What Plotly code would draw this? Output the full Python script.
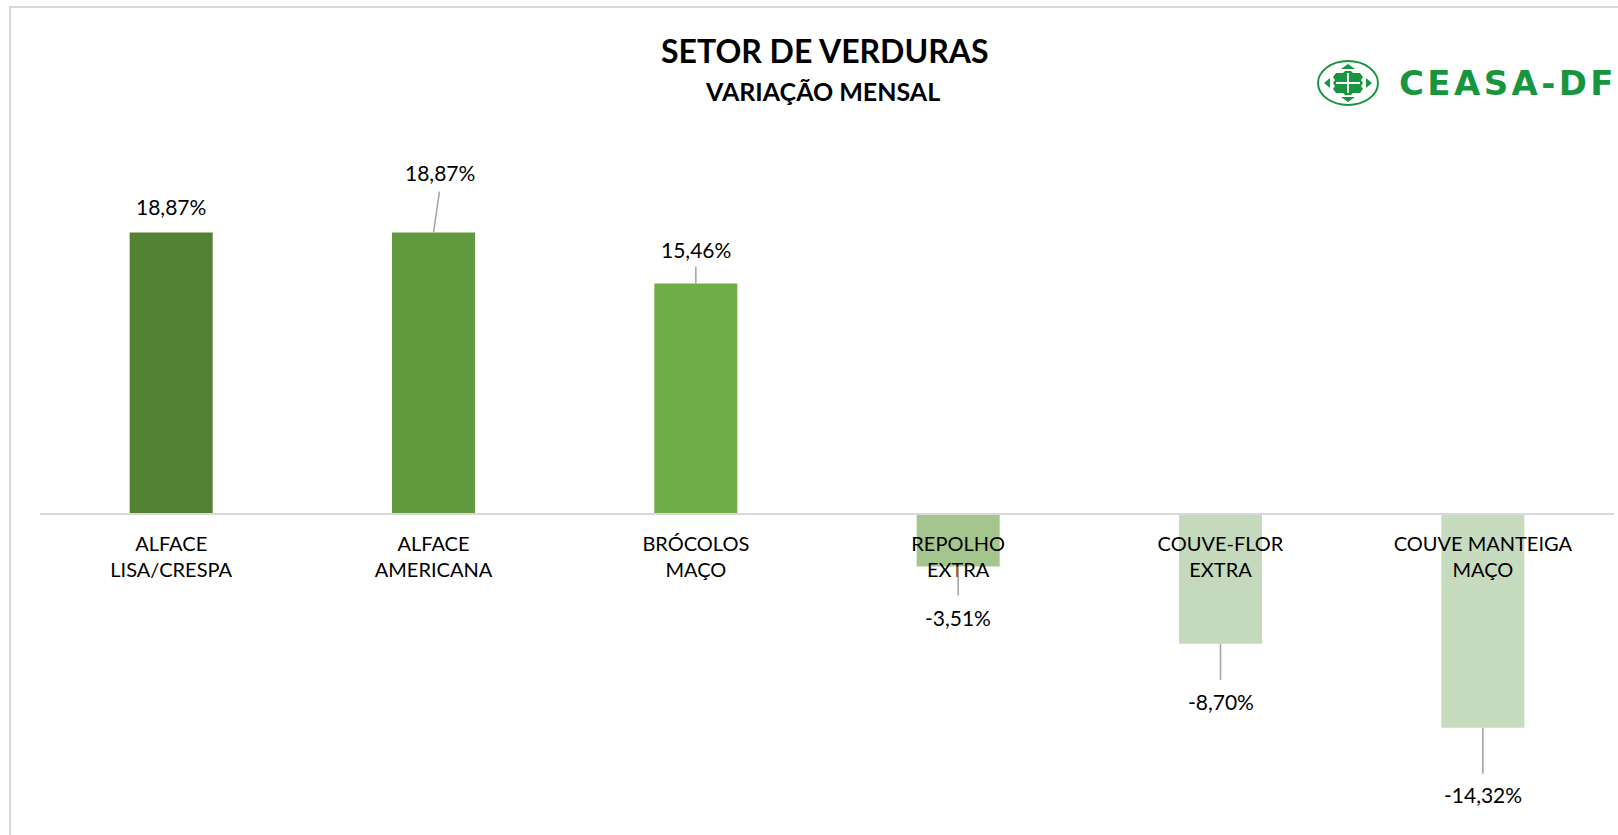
import plotly.graph_objects as go

# ---------------- data ----------------
categories = ["ALFACE<br>LISA/CRESPA", "ALFACE<br>AMERICANA", "BRÓCOLOS<br>MAÇO",
              "REPOLHO<br>EXTRA", "COUVE-FLOR<br>EXTRA", "COUVE MANTEIGA<br>MAÇO"]
variation = [18.87, 18.87, 15.46, -3.51, -8.70, -14.32]
title_text = "SETOR DE VERDURAS"
subtitle_text = "VARIAÇÃO MENSAL"
logo_text = "CEASA-DF"

# ---------------- styles ----------------
bar_colors = ["#548235", "#629B3F", "#70AD47", "#A4C68E", "#C5D9BC", "#C7DBBF"]
label_shift = [(0, 26), (6, 60), (0, 34), (0, -51), (0, -58), (0, -67)]
leader = [None, (6, 41), (0, 17), (0, -29), (0, -36), (0, -46)]
LOGO_GREEN = "#17963F"
FONT = "Lato, 'Open Sans', sans-serif"

W, H = 1618, 835
ML, MR, MT, MB = 40, 4, 120, 10
PW, PH = W - ML - MR, H - MT - MB
Y_RANGE = [-20.84, 26.41]


def px(xp):
    return (xp - ML) / PW


def py(yp):
    return (H - MB - yp) / PH


def fmt(v):
    return f"{v:.2f}".replace(".", ",") + "%"


xs = list(range(len(categories)))
fig = go.Figure(go.Bar(x=xs, y=variation, width=0.3165,
                       marker=dict(color=bar_colors, line=dict(width=0)),
                       hoverinfo="skip"))

annotations = []
shapes = []
for i, v in enumerate(variation):
    dx, dy = label_shift[i]
    annotations.append(dict(x=i, y=v, xref="x", yref="y", text=fmt(v), showarrow=False,
                            xshift=dx, yshift=dy, yanchor="middle", xanchor="center",
                            font=dict(family=FONT, size=21, color="#000000")))
    if leader[i] is not None:
        lx, ly = leader[i]
        shapes.append(dict(type="line", xref="x", yref="y", xsizemode="pixel",
                           ysizemode="pixel", xanchor=i, yanchor=v,
                           x0=0, y0=0, x1=lx, y1=ly,
                           line=dict(color="#A6A6A6", width=1.6)))

# titles
annotations.append(dict(x=px(825), y=py(50), xref="paper", yref="paper", text="<b>" + title_text + "</b>",
                        showarrow=False, xanchor="center", yanchor="middle",
                        font=dict(family=FONT, size=32, color="#000000")))
annotations.append(dict(x=px(822), y=py(91), xref="paper", yref="paper", text="<b>" + subtitle_text + "</b>",
                        showarrow=False, xanchor="center", yanchor="middle",
                        font=dict(family=FONT, size=25, color="#000000")))
# logo text
annotations.append(dict(x=px(1506), y=py(83), xref="paper", yref="paper",
                        text="<b>" + "\u200a".join(logo_text) + "</b>",
                        showarrow=False, xanchor="center", yanchor="middle",
                        font=dict(family="'DejaVu Sans', sans-serif", size=34, color=LOGO_GREEN)))

# chart border
shapes.append(dict(type="rect", xref="paper", yref="paper", x0=px(10), x1=px(1640),
                   y0=py(850), y1=py(7), line=dict(color="#D9D9D9", width=2), fillcolor="rgba(0,0,0,0)"))

# logo emblem
shapes.append(dict(type="circle", xref="paper", yref="paper", x0=px(1318), x1=px(1378),
                   y0=py(105), y1=py(61), line=dict(color=LOGO_GREEN, width=2)))


def path(pts):
    return "M " + " L ".join(f"{px(a):.5f},{py(b):.5f}" for a, b in pts) + " Z"


blob = [(1336, 73), (1343, 73), (1345, 71), (1351, 71), (1353, 73), (1360, 73), (1363, 77), (1361, 80),
        (1363, 83), (1361, 86), (1363, 89), (1360, 93), (1353, 93), (1351, 95), (1345, 95), (1343, 93),
        (1336, 93), (1333, 89), (1335, 86), (1333, 83), (1335, 80), (1333, 77)]
shapes.append(dict(type="path", xref="paper", yref="paper", path=path(blob),
                   fillcolor=LOGO_GREEN, line=dict(width=0)))
shapes.append(dict(type="line", xref="paper", yref="paper", x0=px(1348), x1=px(1348), y0=py(73), y1=py(93),
                   line=dict(color="white", width=2)))
shapes.append(dict(type="line", xref="paper", yref="paper", x0=px(1336), x1=px(1360), y0=py(83), y1=py(83),
                   line=dict(color="white", width=2)))
for tri in ([(1341, 69), (1355, 69), (1348, 64)], [(1341, 97), (1355, 97), (1348, 102)],
            [(1330, 78), (1330, 88), (1324, 83)], [(1366, 78), (1366, 88), (1372, 83)]):
    shapes.append(dict(type="path", xref="paper", yref="paper", path=path(tri),
                       fillcolor=LOGO_GREEN, line=dict(width=0)))

zero_pos = (0 - Y_RANGE[0]) / (Y_RANGE[1] - Y_RANGE[0])

fig.update_layout(
    width=W, height=H,
    margin=dict(l=ML, r=MR, t=MT, b=MB, pad=0),
    paper_bgcolor="white", plot_bgcolor="white",
    showlegend=False,
    annotations=annotations,
    shapes=shapes,
    xaxis=dict(range=[-0.5, len(categories) - 0.5], tickvals=xs, ticktext=categories,
               anchor="free", position=zero_pos, showline=True, linecolor="#D9D9D9", linewidth=1.5,
               ticks="", showgrid=False, zeroline=False, tickangle=0, ticklabelstandoff=12,
               tickfont=dict(family=FONT, size=20, color="#000000"), fixedrange=True),
    yaxis=dict(range=Y_RANGE, showgrid=False, zeroline=False, showticklabels=False,
               showline=False, ticks="", fixedrange=True),
)

fig.write_html("out.html", config={"displayModeBar": False})
